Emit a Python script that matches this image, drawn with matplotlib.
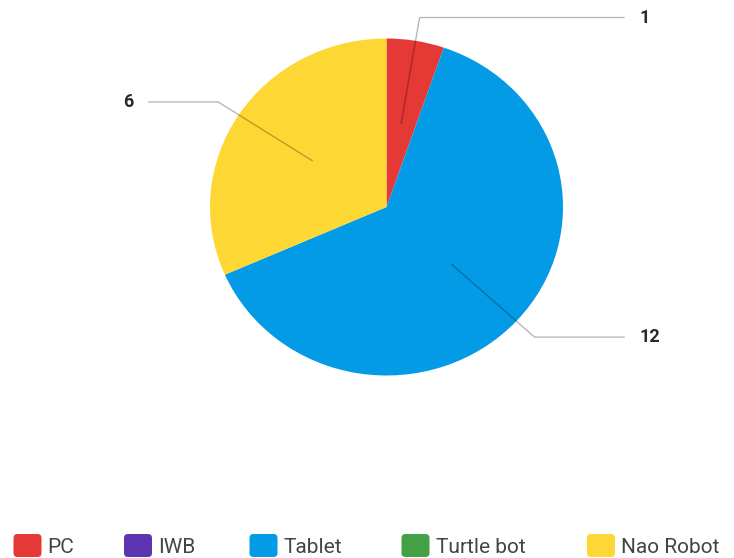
import numpy as np
import matplotlib.pyplot as plt
from matplotlib.patches import FancyBboxPatch
from matplotlib.transforms import IdentityTransform

# robot / device usage counts
devices = ['PC', 'IWB', 'Tablet', 'Turtle bot', 'Nao Robot']
counts = [1, 0, 12, 0, 6]
colors = ['#E53935', '#5E35B1', '#039BE5', '#43A047', '#FDD835']

plt.rcParams['font.family'] = ['Roboto', 'DejaVu Sans']

W, H = 734, 558
fig = plt.figure(figsize=(W / 100, H / 100), dpi=100)

# pie area (slightly wider than tall)
ax = fig.add_axes([210 / W, 1 - 375.5 / H, 353 / W, 337 / H])
wedges, _ = ax.pie(counts, colors=colors, startangle=90, counterclock=False,
                   wedgeprops=dict(linewidth=0))
ax.set_aspect('auto')
ax.set_xlim(-1, 1)
ax.set_ylim(-1, 1)

# leader lines with value labels
r_in, r_elbow, x_end, gap = 0.5, 1.14, 1.35, 0.085
for w, n in zip(wedges, counts):
    if n == 0:
        continue
    mid = np.deg2rad((w.theta1 + w.theta2) / 2)
    x0, y0 = r_in * np.cos(mid), r_in * np.sin(mid)
    x1, y1 = r_elbow * np.cos(mid), r_elbow * np.sin(mid)
    side = 1 if x1 > 0 else -1
    x2 = side * x_end
    ax.plot([x0, x1, x2], [y0, y1, y1], color='black', alpha=0.28, lw=1,
            clip_on=False, solid_capstyle='butt')
    ax.text(x2 + side * gap, y1, str(n), ha='left' if side > 0 else 'right',
            va='center', fontsize=13, fontweight='bold', color='#2a2a2a')

# legend along the bottom edge
item_x = [13.5, 124, 249.5, 401.5, 587]
for x, name, c in zip(item_x, devices, colors):
    box = FancyBboxPatch((x, 1), 28, 23, boxstyle='round,pad=0,rounding_size=4',
                         facecolor=c, edgecolor='none', transform=IdentityTransform())
    fig.add_artist(box)
    fig.text((x + 34) / W, 5 / H, name, ha='left', va='baseline',
             fontsize=15, color='#444444')

fig.savefig('out.png', dpi=100)
